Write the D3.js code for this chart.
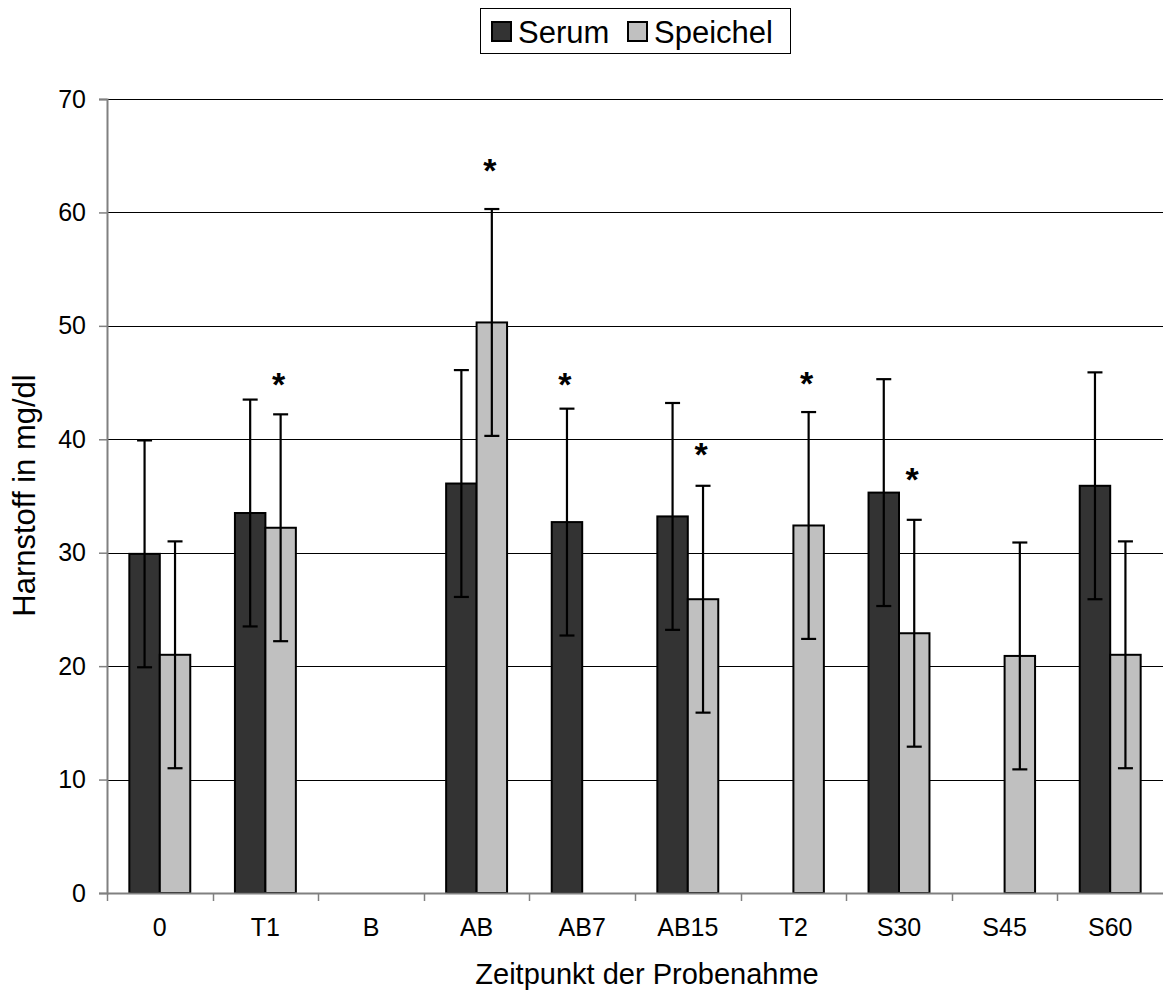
<!DOCTYPE html>
<html>
<head>
<meta charset="utf-8">
<script src="https://cdn.jsdelivr.net/npm/d3@7"></script>
<style>
  html, body { margin: 0; padding: 0; background: #fff; }
  svg { display: block; font-family: "Liberation Sans", Arial, sans-serif; }
</style>
</head>
<body>
<svg id="chart" width="1163" height="998"></svg>
<script>
// Harnstoff (mg/dl) in Serum und Speichel je Zeitpunkt: Mittelwert ± SD
const categories = ["0", "T1", "B", "AB", "AB7", "AB15", "T2", "S30", "S45", "S60"];
const seriesNames = ["Serum", "Speichel"];
const serumMean    = [29.9, 33.5, null, 36.1, 32.7, 33.2, null, 35.3, null, 35.9];
const serumSD      = [10.0, 10.0, null, 10.0, 10.0, 10.0, null, 10.0, null, 10.0];
const speichelMean = [21.0, 32.2, null, 50.3, null, 25.9, 32.4, 22.9, 20.9, 21.0];
const speichelSD   = [10.0, 10.0, null, 10.0, null, 10.0, 10.0, 10.0, 10.0, 10.0];
// Signifikanzmarken (*): Zeitpunkt, Reihe, Höhe in mg/dl
const starCategory = ["T1", "AB", "AB7", "AB15", "T2", "S30"];
const starSeries   = ["Speichel", "Speichel", "Serum", "Speichel", "Speichel", "Speichel"];
const starLevel    = [45.4, 64.3, 45.4, 39.2, 45.5, 37.0];
const yTicks = [0, 10, 20, 30, 40, 50, 60, 70];

const colors = { Serum: "#333333", Speichel: "#c0c0c0" };
const FONT = "Liberation Sans, Arial, sans-serif";

const svg = d3.select("#chart");
const margin = { left: 107, right: 0, top: 99, bottom: 105 };
const W = 1163, H = 998;
const plotH = H - margin.top - margin.bottom;

const x = d3.scaleBand().domain(categories).range([margin.left, W - margin.right]).paddingInner(0).paddingOuter(0);
const y = d3.scaleLinear().domain([0, 70]).range([margin.top + plotH, margin.top]);
const groupWidth = x.bandwidth() * 0.577;
const xs = d3.scaleBand().domain(seriesNames).range([0, groupWidth]).padding(0);
const groupOffset = (x.bandwidth() - groupWidth) / 2;

// Gitterlinien
svg.append("g")
  .selectAll("line")
  .data(yTicks.filter(d => d > 0))
  .join("line")
  .attr("x1", margin.left).attr("x2", W - margin.right)
  .attr("y1", d => Math.round(y(d)) + 0.5).attr("y2", d => Math.round(y(d)) + 0.5)
  .attr("stroke", "#000").attr("stroke-width", 1);

// Datenreihen zusammenstellen
const rows = [];
categories.forEach((c, i) => {
  if (serumMean[i] != null) rows.push({ cat: c, series: "Serum", mean: serumMean[i], sd: serumSD[i] });
  if (speichelMean[i] != null) rows.push({ cat: c, series: "Speichel", mean: speichelMean[i], sd: speichelSD[i] });
});
const barX = d => x(d.cat) + groupOffset + xs(d.series);

// Balken
svg.append("g")
  .selectAll("rect")
  .data(rows)
  .join("rect")
  .attr("x", d => barX(d))
  .attr("y", d => y(d.mean))
  .attr("width", xs.bandwidth())
  .attr("height", d => y(0) - y(d.mean))
  .attr("fill", d => colors[d.series])
  .attr("stroke", "#000")
  .attr("stroke-width", 2);

// Fehlerbalken
const eb = svg.append("g").attr("stroke", "#000").attr("stroke-width", 2.2);
const capW = 15;
rows.forEach(d => {
  const cx = barX(d) + xs.bandwidth() / 2;
  eb.append("line").attr("x1", cx).attr("x2", cx).attr("y1", y(d.mean + d.sd)).attr("y2", y(d.mean - d.sd));
  eb.append("line").attr("x1", cx - capW / 2).attr("x2", cx + capW / 2).attr("y1", y(d.mean + d.sd)).attr("y2", y(d.mean + d.sd));
  eb.append("line").attr("x1", cx - capW / 2).attr("x2", cx + capW / 2).attr("y1", y(d.mean - d.sd)).attr("y2", y(d.mean - d.sd));
});

// Signifikanzsterne
svg.append("g")
  .selectAll("text")
  .data(starCategory.map((c, i) => ({ cat: c, series: starSeries[i], level: starLevel[i] })))
  .join("text")
  .attr("x", d => x(d.cat) + groupOffset + xs(d.series) + xs.bandwidth() / 2 - 2)
  .attr("y", d => y(d.level) + 18)
  .attr("text-anchor", "middle")
  .attr("font-size", 34)
  .attr("font-weight", "bold")
  .attr("fill", "#000")
  .text("*");

// Y-Achse
const yAxis = svg.append("g")
  .attr("transform", `translate(${margin.left},0)`)
  .call(d3.axisLeft(y).tickValues(yTicks).tickSize(8).tickPadding(13).tickFormat(d3.format("d")));
yAxis.select(".domain").attr("stroke", "#808080").attr("stroke-width", 2);
yAxis.selectAll(".tick line").attr("stroke", "#808080").attr("stroke-width", 1.5);
yAxis.selectAll(".tick text").attr("font-size", 25).attr("fill", "#000").attr("font-family", FONT);

// X-Achse
const xAxis = svg.append("g")
  .attr("transform", `translate(0,${y(0)})`)
  .call(d3.axisBottom(x).tickSize(0).tickPadding(25));
xAxis.select(".domain").attr("stroke", "#808080").attr("stroke-width", 2);
xAxis.selectAll(".tick text").attr("font-size", 25).attr("fill", "#000").attr("font-family", FONT);
// Trennstriche zwischen den Zeitpunkten
svg.append("g")
  .selectAll("line")
  .data(categories)
  .join("line")
  .attr("x1", d => Math.round(x(d)) + 0.5).attr("x2", d => Math.round(x(d)) + 0.5)
  .attr("y1", y(0)).attr("y2", y(0) + 8)
  .attr("stroke", "#808080").attr("stroke-width", 1.5);

// Achsentitel
svg.append("text")
  .attr("x", 647)
  .attr("y", 984)
  .attr("text-anchor", "middle")
  .attr("font-size", 29)
  .text("Zeitpunkt der Probenahme");

svg.append("text")
  .attr("transform", `translate(35,495.5) rotate(-90)`)
  .attr("text-anchor", "middle")
  .attr("font-size", 31)
  .text("Harnstoff in mg/dl");

// Legende
const lg = svg.append("g");
lg.append("rect").attr("x", 480.5).attr("y", 8.5).attr("width", 310).attr("height", 45)
  .attr("fill", "#fff").attr("stroke", "#000").attr("stroke-width", 1);
const legendItems = [
  { name: "Serum", sx: 492, tx: 518 },
  { name: "Speichel", sx: 628, tx: 654 }
];
legendItems.forEach(it => {
  lg.append("rect").attr("x", it.sx).attr("y", 22).attr("width", 19).attr("height", 19)
    .attr("fill", colors[it.name]).attr("stroke", "#000").attr("stroke-width", 2);
  lg.append("text").attr("x", it.tx).attr("y", 42.5).attr("font-size", 31).text(it.name);
});
</script>
</body>
</html>
